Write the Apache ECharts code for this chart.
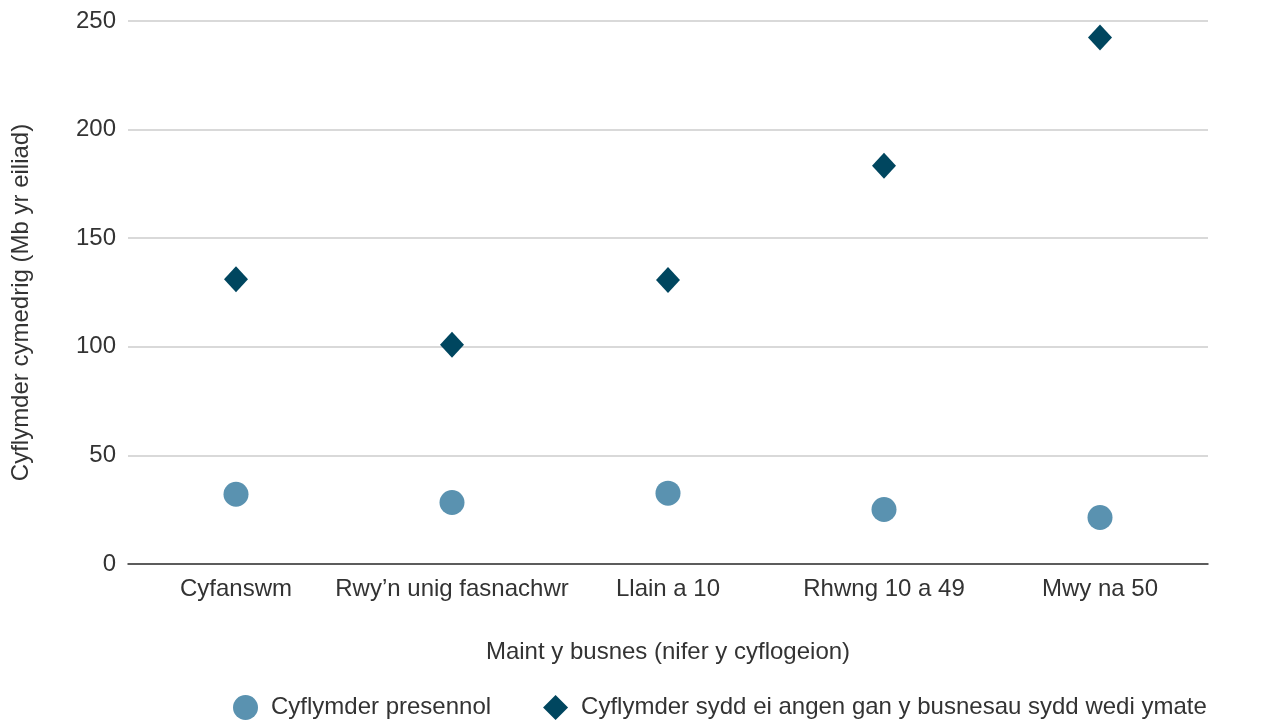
<!DOCTYPE html>
<html>
<head>
<meta charset="utf-8">
<script src="https://cdn.jsdelivr.net/npm/echarts@6/dist/echarts.min.js"></script>
<style>html,body{margin:0;padding:0;background:#fff}#c{width:1261px;height:720px}</style>
</head>
<body>
<div id="c"></div>
<script>
const categories = ["Cyfanswm", "Rwy’n unig fasnachwr", "Llain a 10", "Rhwng 10 a 49", "Mwy na 50"];
const currentSpeed = [32.1, 28.3, 32.6, 25.1, 21.4];
const requiredSpeed = [131.1, 101.0, 130.7, 183.3, 242.4];
const seriesNames = ["Cyflymder presennol", "Cyflymder sydd ei angen gan y busnesau sydd wedi ymate"];
const yTicks = [0, 50, 100, 150, 200, 250];

const font = "Arial, 'Liberation Sans', sans-serif";
const fs = 24;
const chart = echarts.init(document.getElementById('c'));
chart.setOption({
  animation: false,
  textStyle: { fontFamily: font },
  grid: { left: 128, right: 53, top: 21, bottom: 156 },
  legend: {
    left: 228, top: 690,
    itemWidth: 25, itemHeight: 25, itemGap: 52,
    textStyle: { fontSize: fs, color: '#333', fontFamily: font, padding: [0, 0, 0, 8] },
    data: [
      { name: seriesNames[0], icon: 'circle' },
      { name: seriesNames[1], icon: 'diamond' }
    ]
  },
  xAxis: {
    type: 'category',
    data: categories,
    name: 'Maint y busnes (nifer y cyflogeion)',
    nameLocation: 'middle',
    nameGap: 76,
    nameTextStyle: { fontSize: fs, color: '#333' },
    axisLine: { lineStyle: { color: '#333', width: 1.5 } },
    axisTick: { show: false },
    axisLabel: { fontSize: fs, color: '#333', margin: 13, interval: 0 },
    splitLine: { show: false }
  },
  yAxis: {
    type: 'value',
    min: yTicks[0], max: yTicks[yTicks.length - 1], interval: 50,
    name: 'Cyflymder cymedrig (Mb yr eiliad)',
    nameLocation: 'middle',
    nameGap: 95,
    nameTextStyle: { fontSize: fs, color: '#333', padding: [0, 20, 0, 0] },
    axisLine: { show: false },
    axisTick: { show: false },
    axisLabel: { fontSize: fs, color: '#333', margin: 12, padding: [3, 0, 0, 0] },
    splitLine: { lineStyle: { color: '#cccccc', width: 1.5 } }
  },
  series: [
    {
      name: seriesNames[0], type: 'scatter', symbol: 'circle', symbolSize: 25,
      itemStyle: { color: '#5a92b0', opacity: 1 },
      data: currentSpeed
    },
    {
      name: seriesNames[1], type: 'scatter', symbol: 'diamond', symbolSize: [24, 26],
      itemStyle: { color: '#00465f', opacity: 1 },
      data: requiredSpeed
    }
  ]
});
</script>
</body>
</html>
